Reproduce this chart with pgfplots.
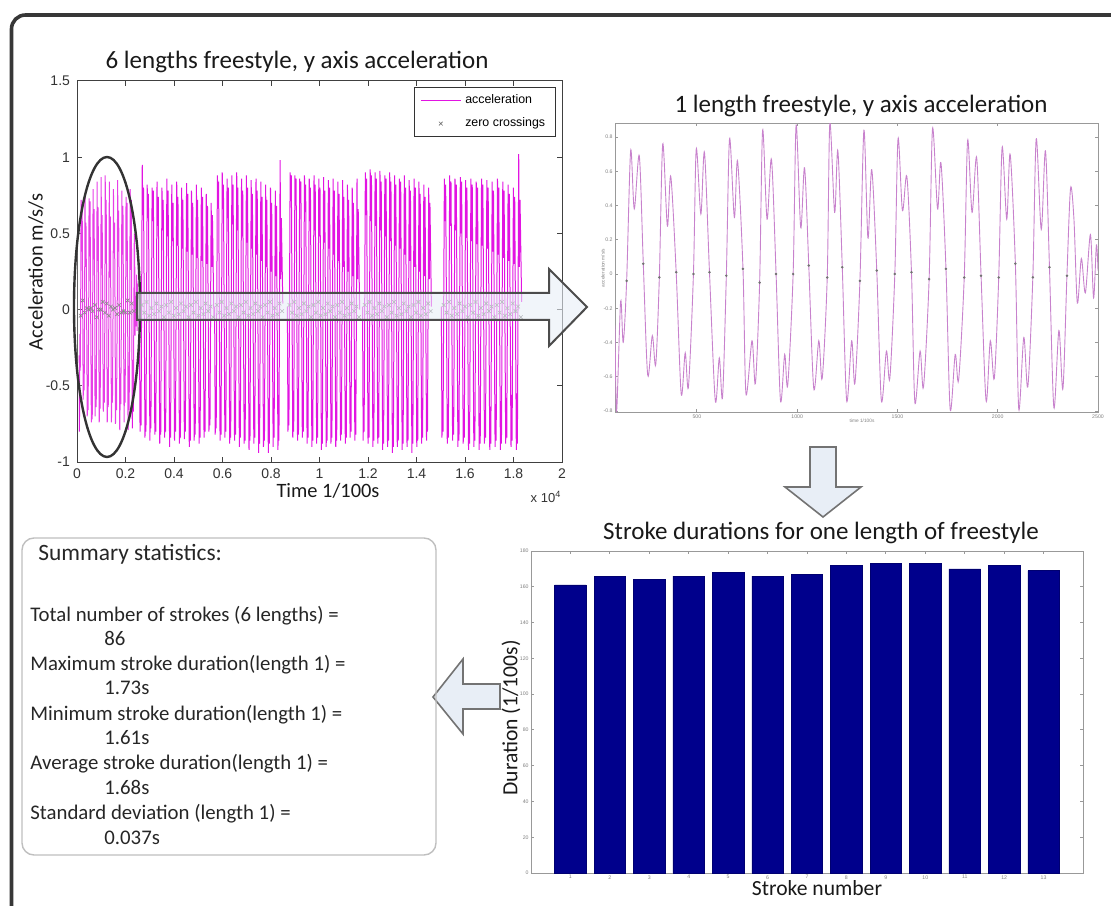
\documentclass[border=0pt]{standalone}
\usepackage{pgfplots}
\pgfplotsset{compat=1.18}
\usepackage{pgfplotstable}
\usepackage{fontspec}
\setmainfont{Carlito}
\newfontfamily\arial{Liberation Sans}

\definecolor{accmag}{RGB}{226,20,226}
\definecolor{zcgray}{RGB}{110,110,110}
\definecolor{barblue}{RGB}{0,0,140}
\definecolor{framegray}{RGB}{55,55,55}
\definecolor{arrowfill}{RGB}{232,238,246}
\definecolor{lightmag}{RGB}{200,130,205}

\pgfplotsset{
  accleg/.style={legend image code/.code={\draw[##1, line width=0.5pt] (0pt,0pt) -- (20pt,0pt);}},
  zcleg/.style={legend image code/.code={\draw[mark repeat=2,mark phase=2,##1] plot coordinates {(0pt,0pt)(10pt,0pt)(20pt,0pt)};}},
  accline/.style={accmag, line width=0.5pt},
}

% y-axis acceleration over the first length (time in 1/100 s)
\pgfplotstableread{
x y
92 -0.30
100 -0.80
120 -0.16
133 -0.40
150 -0.04
170 0.72
188 0.38
213 0.69
233 0.06
255 -0.59
278 -0.36
295 -0.53
313 -0.02
330 0.76
353 0.28
370 0.57
397 0.01
422 -0.70
442 -0.46
458 -0.66
483 0.00
497 0.73
520 0.35
538 0.71
563 0.01
592 -0.74
612 -0.49
628 -0.72
647 -0.01
663 0.79
687 0.33
703 0.66
730 0.03
745 -0.70
775 -0.39
792 -0.64
813 -0.05
828 0.84
850 0.32
872 0.67
895 0.00
917 -0.74
938 -0.47
953 -0.65
980 0.00
995 0.87
1018 0.27
1037 0.62
1058 0.05
1083 -0.67
1108 -0.39
1125 -0.61
1150 -0.02
1163 0.88
1187 0.36
1203 0.72
1225 0.04
1247 -0.74
1272 -0.39
1288 -0.64
1313 -0.04
1333 0.84
1353 0.21
1372 0.61
1397 0.02
1420 -0.74
1445 -0.45
1462 -0.61
1487 0.00
1503 0.79
1525 0.37
1547 0.57
1570 0.01
1587 -0.75
1613 -0.45
1630 -0.66
1658 -0.03
1675 0.85
1700 0.38
1717 0.65
1742 0.03
1763 -0.79
1788 -0.47
1805 -0.62
1833 -0.02
1850 0.78
1872 0.36
1895 0.68
1917 -0.01
1942 -0.74
1963 -0.39
1983 -0.61
2005 -0.02
2022 0.74
2045 0.32
2062 0.70
2088 0.06
2105 -0.79
2130 -0.37
2150 -0.66
2175 -0.02
2192 0.79
2217 0.26
2238 0.72
2258 0.04
2280 -0.78
2305 -0.33
2325 -0.67
2345 -0.01
2363 0.50
2380 0.32
2397 -0.17
2417 0.09
2437 -0.11
2462 0.23
2478 -0.14
2492 0.17
2500 0.02
}\lengthone

% zero crossings detected in the first length
\pgfplotstableread{
x y
150 -0.04
233 0.06
313 -0.02
397 0.01
483 0.00
563 0.01
647 -0.01
730 0.03
813 -0.05
895 0.00
980 0.00
1058 0.05
1150 -0.02
1225 0.04
1313 -0.04
1397 0.02
1487 0.00
1570 0.01
1658 -0.03
1742 0.03
1833 -0.02
1917 -0.01
2005 -0.02
2088 0.06
2175 -0.02
2258 0.04
2345 -0.01
}\zeroone

\begin{document}
\begin{tikzpicture}

% ---------------- six lengths ----------------
\begin{axis}[
  at={(38.5pt,221.5pt)}, anchor=south west, scale only axis,
  width=242.5pt, height=190.5pt,
  xmin=0, xmax=20000, ymin=-1, ymax=1.5,
  scaled x ticks=false,
  xtick={0,2000,4000,6000,8000,10000,12000,14000,16000,18000,20000},
  xticklabels={0,0.2,0.4,0.6,0.8,1,1.2,1.4,1.6,1.8,2},
  ytick={-1,-0.5,0,0.5,1,1.5},
  yticklabels={-1,-0.5,0,0.5,1,1.5},
  tick align=inside, xtick pos=both, ytick pos=both,
  major tick length=2.5pt,
  axis line style={draw=black!75, line width=0.5pt},
  tick style={black!75, line width=0.5pt},
  ticklabel style={font=\arial\fontsize{7}{8}\selectfont, text=black!80},
  legend cell align=left,
  legend style={at={(0.987,0.984)}, anchor=north east,
    font=\arial\fontsize{6.2}{7.5}\selectfont, draw=black!80, line width=0.5pt,
    inner xsep=3pt, inner ysep=1.5pt, row sep=1.5pt},
]
\addplot[accline, accleg] table {\lengthone};
\addlegendentry{acceleration}
\addplot[accline, forget plot] coordinates {
(2570,0.02)
(2600,-0.80)(2620,-0.60)(2641,-0.76)(2691,0.95)(2716,0.62)(2742,0.80)
(2803,-0.84)(2823,-0.62)(2844,-0.80)(2894,0.82)(2919,0.60)(2945,0.76)
(3006,-0.86)(3026,-0.60)(3047,-0.78)(3097,0.80)(3122,0.58)(3148,0.78)
(3209,-0.82)(3229,-0.64)(3250,-0.80)(3300,0.84)(3325,0.55)(3351,0.74)
(3412,-0.88)(3432,-0.62)(3453,-0.82)(3503,0.80)(3528,0.52)(3554,0.72)
(3615,-0.84)(3635,-0.65)(3656,-0.80)(3706,0.86)(3731,0.48)(3757,0.78)
(3818,-0.90)(3838,-0.63)(3859,-0.84)(3909,0.82)(3934,0.45)(3960,0.70)
(4021,-0.86)(4041,-0.62)(4062,-0.80)(4112,0.84)(4137,0.42)(4163,0.74)
(4224,-0.88)(4244,-0.66)(4265,-0.84)(4315,0.80)(4340,0.40)(4366,0.72)
(4427,-0.85)(4447,-0.64)(4468,-0.80)(4518,0.83)(4543,0.38)(4569,0.76)
(4630,-0.90)(4650,-0.65)(4671,-0.86)(4721,0.78)(4746,0.36)(4772,0.70)
(4833,-0.86)(4853,-0.62)(4874,-0.82)(4924,0.82)(4949,0.34)(4975,0.72)
(5036,-0.88)(5056,-0.64)(5077,-0.84)(5127,0.80)(5152,0.32)(5178,0.74)
(5239,-0.84)(5259,-0.60)(5280,-0.80)(5330,0.76)(5355,0.30)(5381,0.68)
(5442,-0.80)(5462,-0.58)(5483,-0.76)(5533,0.70)(5558,0.28)(5584,0.62)
(5645,-0.05)};
\addplot[accline, forget plot] coordinates {
(5675,0.02)
(5700,-0.82)(5720,-0.56)(5740,-0.78)(5790,0.88)(5813,0.70)(5839,0.84)
(5899,-0.86)(5919,-0.58)(5939,-0.82)(5989,0.90)(6012,0.66)(6038,0.82)
(6098,-0.84)(6118,-0.60)(6138,-0.80)(6188,0.86)(6211,0.60)(6237,0.80)
(6297,-0.88)(6317,-0.60)(6337,-0.84)(6387,0.88)(6410,0.56)(6436,0.82)
(6496,-0.86)(6516,-0.62)(6536,-0.82)(6586,0.90)(6609,0.52)(6635,0.80)
(6695,-0.90)(6715,-0.60)(6735,-0.84)(6785,0.86)(6808,0.48)(6834,0.78)
(6894,-0.88)(6914,-0.62)(6934,-0.86)(6984,0.88)(7007,0.44)(7033,0.80)
(7093,-0.92)(7113,-0.64)(7133,-0.86)(7183,0.85)(7206,0.40)(7232,0.76)
(7292,-0.88)(7312,-0.60)(7332,-0.84)(7382,0.86)(7405,0.36)(7431,0.78)
(7491,-0.94)(7511,-0.62)(7531,-0.88)(7581,0.84)(7604,0.32)(7630,0.74)
(7690,-0.90)(7710,-0.62)(7730,-0.86)(7780,0.82)(7803,0.28)(7829,0.72)
(7889,-0.94)(7909,-0.60)(7929,-0.88)(7979,0.80)(8002,0.25)(8028,0.70)
(8088,-0.90)(8108,-0.58)(8128,-0.84)(8178,0.78)(8201,0.22)(8227,0.68)
(8287,-0.92)(8307,-0.56)(8327,-0.86)(8377,0.98)(8400,0.20)(8426,0.60)
(8486,0.04)};
\addplot[accline, forget plot] coordinates {
(8675,0.02)
(8700,-0.80)(8720,-0.56)(8739,-0.76)(8789,0.90)(8812,0.82)(8838,0.88)
(8897,-0.84)(8917,-0.58)(8936,-0.80)(8986,0.88)(9009,0.76)(9035,0.86)
(9094,-0.86)(9114,-0.60)(9133,-0.82)(9183,0.86)(9206,0.70)(9232,0.84)
(9291,-0.84)(9311,-0.62)(9330,-0.80)(9380,0.88)(9403,0.64)(9429,0.82)
(9488,-0.88)(9508,-0.64)(9527,-0.84)(9577,0.86)(9600,0.58)(9626,0.80)
(9685,-0.90)(9705,-0.66)(9724,-0.86)(9774,0.88)(9797,0.52)(9823,0.82)
(9882,-0.88)(9902,-0.67)(9921,-0.84)(9971,0.86)(9994,0.48)(10020,0.80)
(10079,-0.92)(10099,-0.68)(10118,-0.88)(10168,0.87)(10191,0.44)(10217,0.78)
(10276,-0.90)(10296,-0.67)(10315,-0.86)(10365,0.85)(10388,0.40)(10414,0.80)
(10473,-0.88)(10493,-0.65)(10512,-0.84)(10562,0.86)(10585,0.36)(10611,0.78)
(10670,-0.90)(10690,-0.62)(10709,-0.86)(10759,0.84)(10782,0.32)(10808,0.76)
(10867,-0.86)(10887,-0.58)(10906,-0.82)(10956,0.85)(10979,0.28)(11005,0.74)
(11064,-0.88)(11084,-0.54)(11103,-0.84)(11153,0.82)(11176,0.25)(11202,0.72)
(11261,-0.84)(11281,-0.50)(11300,-0.80)(11350,0.80)(11373,0.22)(11399,0.70)
(11458,-0.86)(11478,-0.46)(11497,-0.82)(11547,0.86)(11570,0.20)(11596,0.66)
(11655,0.00)};
\addplot[accline, forget plot] coordinates {
(11775,0.02)
(11800,-0.86)(11820,-0.58)(11840,-0.80)(11890,0.90)(11915,0.62)(11941,0.86)
(12001,-0.88)(12021,-0.60)(12041,-0.84)(12091,0.92)(12116,0.58)(12142,0.88)
(12202,-0.90)(12222,-0.62)(12242,-0.86)(12292,0.90)(12317,0.55)(12343,0.86)
(12403,-0.88)(12423,-0.64)(12443,-0.84)(12493,0.91)(12518,0.52)(12544,0.84)
(12604,-0.92)(12624,-0.66)(12644,-0.88)(12694,0.88)(12719,0.48)(12745,0.86)
(12805,-0.90)(12825,-0.68)(12845,-0.86)(12895,0.90)(12920,0.45)(12946,0.84)
(13006,-0.94)(13026,-0.68)(13046,-0.90)(13096,0.88)(13121,0.42)(13147,0.82)
(13207,-0.90)(13227,-0.67)(13247,-0.86)(13297,0.86)(13322,0.40)(13348,0.84)
(13408,-0.92)(13428,-0.66)(13448,-0.88)(13498,0.88)(13523,0.36)(13549,0.80)
(13609,-0.90)(13629,-0.64)(13649,-0.86)(13699,0.85)(13724,0.32)(13750,0.78)
(13810,-0.94)(13830,-0.62)(13850,-0.88)(13900,0.86)(13925,0.28)(13951,0.80)
(14011,-0.90)(14031,-0.60)(14051,-0.86)(14101,0.84)(14126,0.25)(14152,0.76)
(14212,-0.88)(14232,-0.58)(14252,-0.84)(14302,0.82)(14327,0.22)(14353,0.74)
(14413,-0.86)(14433,-0.55)(14453,-0.80)(14503,0.80)(14528,0.20)(14554,0.70)
(14614,0.02)};
\addplot[accline, forget plot] coordinates {
(15025,0.02)
(15050,-0.84)(15072,-0.58)(15094,-0.80)(15149,0.86)(15175,0.58)(15203,0.82)
(15269,-0.88)(15291,-0.62)(15313,-0.84)(15368,0.88)(15394,0.55)(15422,0.84)
(15488,-0.86)(15510,-0.64)(15532,-0.82)(15587,0.86)(15613,0.52)(15641,0.82)
(15707,-0.90)(15729,-0.66)(15751,-0.86)(15806,0.87)(15832,0.50)(15860,0.84)
(15926,-0.88)(15948,-0.68)(15970,-0.84)(16025,0.85)(16051,0.47)(16079,0.80)
(16145,-0.92)(16167,-0.70)(16189,-0.88)(16244,0.86)(16270,0.45)(16298,0.82)
(16364,-0.90)(16386,-0.70)(16408,-0.86)(16463,0.84)(16489,0.43)(16517,0.80)
(16583,-0.92)(16605,-0.68)(16627,-0.88)(16682,0.86)(16708,0.42)(16736,0.82)
(16802,-0.88)(16824,-0.66)(16846,-0.84)(16901,0.85)(16927,0.40)(16955,0.80)
(17021,-0.92)(17043,-0.64)(17065,-0.88)(17120,0.84)(17146,0.38)(17174,0.78)
(17240,-0.90)(17262,-0.62)(17284,-0.86)(17339,0.86)(17365,0.36)(17393,0.80)
(17459,-0.92)(17481,-0.60)(17503,-0.88)(17558,0.84)(17584,0.34)(17612,0.78)
(17678,-0.88)(17700,-0.58)(17722,-0.84)(17777,0.82)(17803,0.32)(17831,0.76)
(17897,-0.90)(17919,-0.56)(17941,-0.86)(17996,0.80)(18022,0.30)(18050,0.74)
(18116,-0.92)(18138,-0.55)(18160,-0.88)(18215,1.02)(18241,0.28)(18269,0.72)
(18335,0.05)};
% zero crossings
\addplot[only marks, mark=x, mark size=1.3pt, zcgray, mark options={line width=0.3pt}, zcleg]
  coordinates {
(2665,0.03)(2775,-0.02)(2868,0.05)(2978,-0.04)(3071,0.01)(3181,-0.03)(3274,0.04)(3384,-0.01)(3477,0.02)(3587,-0.05)
(3680,0.03)(3790,-0.02)(3883,0.05)(3993,-0.04)(4086,0.01)(4196,-0.03)(4289,0.04)(4399,-0.01)(4492,0.02)(4602,-0.05)
(4695,0.03)(4805,-0.02)(4898,0.05)(5008,-0.04)(5101,0.01)(5211,-0.03)(5304,0.04)(5414,-0.01)(5507,0.02)(5617,-0.05)
(5764,0.03)(5870,-0.02)(5963,0.05)(6069,-0.04)(6162,0.01)(6268,-0.03)(6361,0.04)(6467,-0.01)(6560,0.02)(6666,-0.05)
(6759,0.03)(6865,-0.02)(6958,0.05)(7064,-0.04)(7157,0.01)(7263,-0.03)(7356,0.04)(7462,-0.01)(7555,0.02)(7661,-0.05)
(7754,0.03)(7860,-0.02)(7953,0.05)(8059,-0.04)(8152,0.01)(8258,-0.03)(8351,0.04)(8457,-0.01)
(8763,0.03)(8868,-0.02)(8960,0.05)(9065,-0.04)(9157,0.01)(9262,-0.03)(9354,0.04)(9459,-0.01)(9551,0.02)(9656,-0.05)
(9748,0.03)(9853,-0.02)(9945,0.05)(10050,-0.04)(10142,0.01)(10247,-0.03)(10339,0.04)(10444,-0.01)(10536,0.02)(10641,-0.05)
(10733,0.03)(10838,-0.02)(10930,0.05)(11035,-0.04)(11127,0.01)(11232,-0.03)(11324,0.04)(11429,-0.01)(11521,0.02)(11626,-0.05)
(11865,0.03)(11972,-0.02)(12066,0.05)(12173,-0.04)(12267,0.01)(12374,-0.03)(12468,0.04)(12575,-0.01)(12669,0.02)(12776,-0.05)
(12870,0.03)(12977,-0.02)(13071,0.05)(13178,-0.04)(13272,0.01)(13379,-0.03)(13473,0.04)(13580,-0.01)(13674,0.02)(13781,-0.05)
(13875,0.03)(13982,-0.02)(14076,0.05)(14183,-0.04)(14277,0.01)(14384,-0.03)(14478,0.04)(14585,-0.01)
(15120,0.03)(15236,-0.02)(15339,0.05)(15455,-0.04)(15558,0.01)(15674,-0.03)(15777,0.04)(15893,-0.01)(15996,0.02)(16112,-0.05)
(16215,0.03)(16331,-0.02)(16434,0.05)(16550,-0.04)(16653,0.01)(16769,-0.03)(16872,0.04)(16988,-0.01)(17091,0.02)(17207,-0.05)
(17310,0.03)(17426,-0.02)(17529,0.05)(17645,-0.04)(17748,0.01)(17864,-0.03)(17967,0.04)(18083,-0.01)(18186,0.02)(18302,-0.05)
};
\addlegendentry{zero crossings}
\addplot[only marks, mark=x, mark size=1.3pt, zcgray, mark options={line width=0.3pt}, forget plot]
  table {\zeroone};
\end{axis}

% ---------------- one length ----------------
\begin{axis}[
  at={(307.5pt,246.5pt)}, anchor=south west, scale only axis,
  width=241.5pt, height=144.5pt,
  xmin=92, xmax=2500, ymin=-0.806, ymax=0.882,
  scaled x ticks=false, scaled y ticks=false,
  xtick={500,1000,1500,2000,2500},
  xticklabels={500,1000,1500,2000,2500},
  ytick={-0.8,-0.6,-0.4,-0.2,0,0.2,0.4,0.6,0.8},
  yticklabels={-0.8,-0.6,-0.4,-0.2,0,0.2,0.4,0.6,0.8},
  tick align=inside, xtick pos=both, ytick pos=both,
  major tick length=1.5pt,
  axis line style={draw=black!40, line width=0.4pt},
  tick style={black!40, line width=0.4pt},
  ticklabel style={font=\arial\fontsize{2.6}{3}\selectfont, text=black!50, inner sep=1pt},
]
\addplot[lightmag, line width=0.45pt, smooth, tension=0.5] table {\lengthone};
\addplot[only marks, mark=*, mark size=0.4pt, black!55] table {\zeroone};
\end{axis}

% ---------------- stroke durations ----------------
\begin{axis}[
  at={(265.5pt,16pt)}, anchor=south west, scale only axis,
  width=276pt, height=161pt,
  xmin=0, xmax=14, ymin=0, ymax=180,
  ybar, bar width=0.8,
  xtick={1,2,3,4,5,6,7,8,9,10,11,12,13},
  ytick={0,20,40,60,80,100,120,140,160,180},
  /pgf/number format/assume math mode=true,
  tick align=inside, xtick pos=both, ytick pos=both,
  major tick length=1.5pt,
  axis line style={draw=black!40, line width=0.4pt},
  tick style={black!40, line width=0.4pt},
  ticklabel style={font=\arial\fontsize{2.6}{3}\selectfont, text=black!50, inner sep=1pt},
]
\addplot[fill=barblue, draw=barblue!80!black, line width=0.3pt] coordinates {
(1,161) (2,166) (3,164) (4,166) (5,168) (6,166) (7,167)
(8,172) (9,173) (10,173) (11,170) (12,172) (13,169)};
\end{axis}

% ---------------- annotations, in pixel units (y downward) ----------------
\begin{scope}[x=0.5pt, y=-0.5pt, yshift=452.5pt]
  % outer panel frame
  \draw[framegray, line width=1.8pt, rounded corners=7pt] (11.5,15) rectangle (1140,940);

  % first length highlighted
  \draw[black!80, line width=1.2pt, fill=white, fill opacity=0.18] (107,307) ellipse [x radius=33, y radius=150];

  % block arrows
  \draw[black!70, line width=1pt, fill=arrowfill, fill opacity=0.6]
    (137,293) -- (549,293) -- (549,269) -- (587,307) -- (549,346) -- (549,320) -- (137,320) -- cycle;
  \draw[black!55, line width=0.8pt, fill=arrowfill]
    (810,447) -- (836,447) -- (836,487) -- (861,487) -- (823,517) -- (785,487) -- (810,487) -- cycle;
  \draw[black!55, line width=0.8pt, fill=arrowfill]
    (500,684) -- (463,684) -- (463,659) -- (433,697) -- (463,734) -- (463,709) -- (500,709) -- cycle;

  % titles and axis labels
  \node[anchor=base, font=\fontsize{12.5}{15}\selectfont, text=black!90] at (297,69) {6 lengths freestyle, y axis acceleration};
  \node[anchor=base, font=\fontsize{12.5}{15}\selectfont, text=black!90] at (861,113) {1 length freestyle, y axis acceleration};
  \node[anchor=base, font=\fontsize{12.5}{15}\selectfont, text=black!90] at (821,540) {Stroke durations for one length of freestyle};

  \node[rotate=90, font=\fontsize{10.3}{12}\selectfont, text=black!90] at (36,272) {Acceleration m/s/s};
  \node[anchor=base, font=\fontsize{10.2}{12}\selectfont, text=black!90] at (328,497) {Time 1/100s};
  \node[anchor=base, font=\arial\fontsize{6.5}{7}\selectfont, text=black!80] at (546,503) {x 10\textsuperscript{4}};

  \node[rotate=90, font=\arial\fontsize{2.4}{3}\selectfont, text=black!50] at (603,268) {acceleration m/s/s};
  \node[font=\arial\fontsize{2.4}{3}\selectfont, text=black!50] at (862,421) {time 1/100s};

  \node[rotate=90, font=\fontsize{10.8}{13}\selectfont, text=black!90] at (511,718) {Duration (1/100s)};
  \node[anchor=base, font=\fontsize{10.8}{13}\selectfont, text=black!90] at (817,895) {Stroke number};

  % summary box
  \draw[black!25, line width=0.7pt, rounded corners=6pt] (22,538) rectangle (436,855);
  \begin{scope}[every node/.style={anchor=base west, font=\fontsize{10.4}{12}\selectfont, text=black!85, inner sep=0pt}]
    \node[font=\fontsize{11.7}{14}\selectfont] at (38,560) {Summary statistics:};
    \node at (30,621) {Total number of strokes (6 lengths) =};
    \node at (104,645) {86};
    \node at (30,670) {Maximum stroke duration(length 1) =};
    \node at (104,694) {1.73s};
    \node at (30,720) {Minimum stroke duration(length 1) =};
    \node at (104,744) {1.61s};
    \node at (30,769) {Average stroke duration(length 1) =};
    \node at (104,794) {1.68s};
    \node at (30,819) {Standard deviation (length 1) =};
    \node at (104,844) {0.037s};
  \end{scope}
\end{scope}

\pgfresetboundingbox
\useasboundingbox (0,0) rectangle (555.5pt,452.5pt);
\end{tikzpicture}
\end{document}
